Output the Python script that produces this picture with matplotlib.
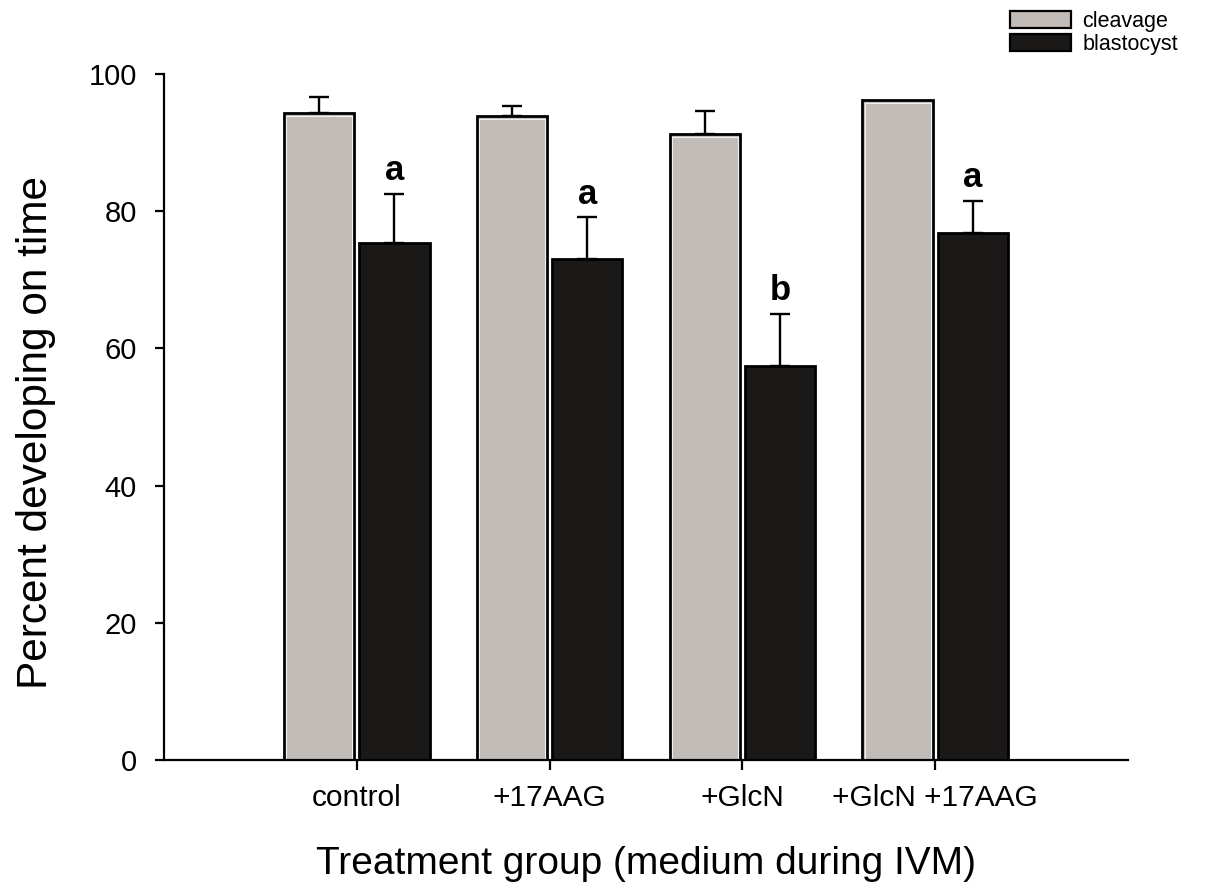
import matplotlib
matplotlib.use("Agg")
import matplotlib.pyplot as plt
import numpy as np

plt.rcParams["font.family"] = ["Liberation Sans", "DejaVu Sans"]

# ---------------------------------------------------------------------------
# Data
# ---------------------------------------------------------------------------
groups = ["control", "+17AAG", "+GlcN", "+GlcN +17AAG"]
cleavage = [94.3, 93.8, 91.2, 96.2]
cleavage_err = [2.4, 1.5, 3.4, 0.0]
blastocyst = [75.4, 73.0, 57.5, 76.8]
blastocyst_err = [7.1, 6.1, 7.5, 4.7]
letters = ["a", "a", "b", "a"]

GRAY = "#c2bcb8"
BLACK = "#1b1917"

fig = plt.figure(figsize=(12.12, 8.9), dpi=100)
ax = fig.add_axes([0.1353, 0.1461, 0.7954, 0.7708])

x = np.arange(len(groups))
w = 0.365
off = 0.195

err_kw = dict(ecolor="black", elinewidth=1.7, capsize=7, capthick=1.7)

ax.bar(x - off, cleavage, w, color=GRAY, edgecolor="black", linewidth=2.0,
       label="cleavage", zorder=2)
# thin light line just inside the edge of the grey bars
ax.bar(x - off, np.array(cleavage) - 0.4, w - 0.022, bottom=0,
       facecolor="none", edgecolor="#f2f0ee", linewidth=0.8, zorder=2.5)
ax.bar(x + off, blastocyst, w, color=BLACK, edgecolor="black", linewidth=2.0,
       label="blastocyst", zorder=2)

# upward-only error bars
ce = np.array(cleavage_err)
be = np.array(blastocyst_err)
mask = ce > 0
ax.errorbar((x - off)[mask], np.array(cleavage)[mask],
            yerr=[np.zeros(mask.sum()), ce[mask]], fmt="none", zorder=1, **err_kw)
ax.errorbar(x + off, blastocyst, yerr=[np.zeros_like(be), be],
            fmt="none", zorder=1, **err_kw)

for xi, yv, e, s in zip(x + off, blastocyst, blastocyst_err, letters):
    ax.text(xi, yv + e + 2.0, s, ha="center", va="baseline",
            fontsize=25, fontweight="bold")

ax.set_xlim(-1.0, 4.0)
ax.set_ylim(0, 100)
ax.set_yticks([0, 20, 40, 60, 80, 100])
ax.set_xticks(x)
ax.set_xticklabels(groups)

for side in ("top", "right"):
    ax.spines[side].set_visible(False)
for side in ("left", "bottom"):
    ax.spines[side].set_linewidth(1.6)

ax.tick_params(axis="y", direction="out", length=6.5, width=1.6,
               pad=13, labelsize=21)
ax.tick_params(axis="x", direction="out", length=7.5, width=1.6,
               pad=10, labelsize=21.5)

ax.set_xlabel("Treatment group (medium during IVM)", fontsize=28)
ax.set_ylabel("Percent developing on time", fontsize=30.5)
ax.xaxis.set_label_coords(0.5, -0.125)
ax.yaxis.set_label_coords(-0.112, 0.478)

leg = ax.legend(loc="upper left", bbox_to_anchor=(0.878, 1.092),
                frameon=False, fontsize=15.5, handlelength=2.8,
                handleheight=0.8, handletextpad=0.55, labelspacing=0.1,
                borderaxespad=0, borderpad=0)
for h in leg.legend_handles:
    h.set_linewidth(1.6)

fig.savefig("out.png", dpi=100)
